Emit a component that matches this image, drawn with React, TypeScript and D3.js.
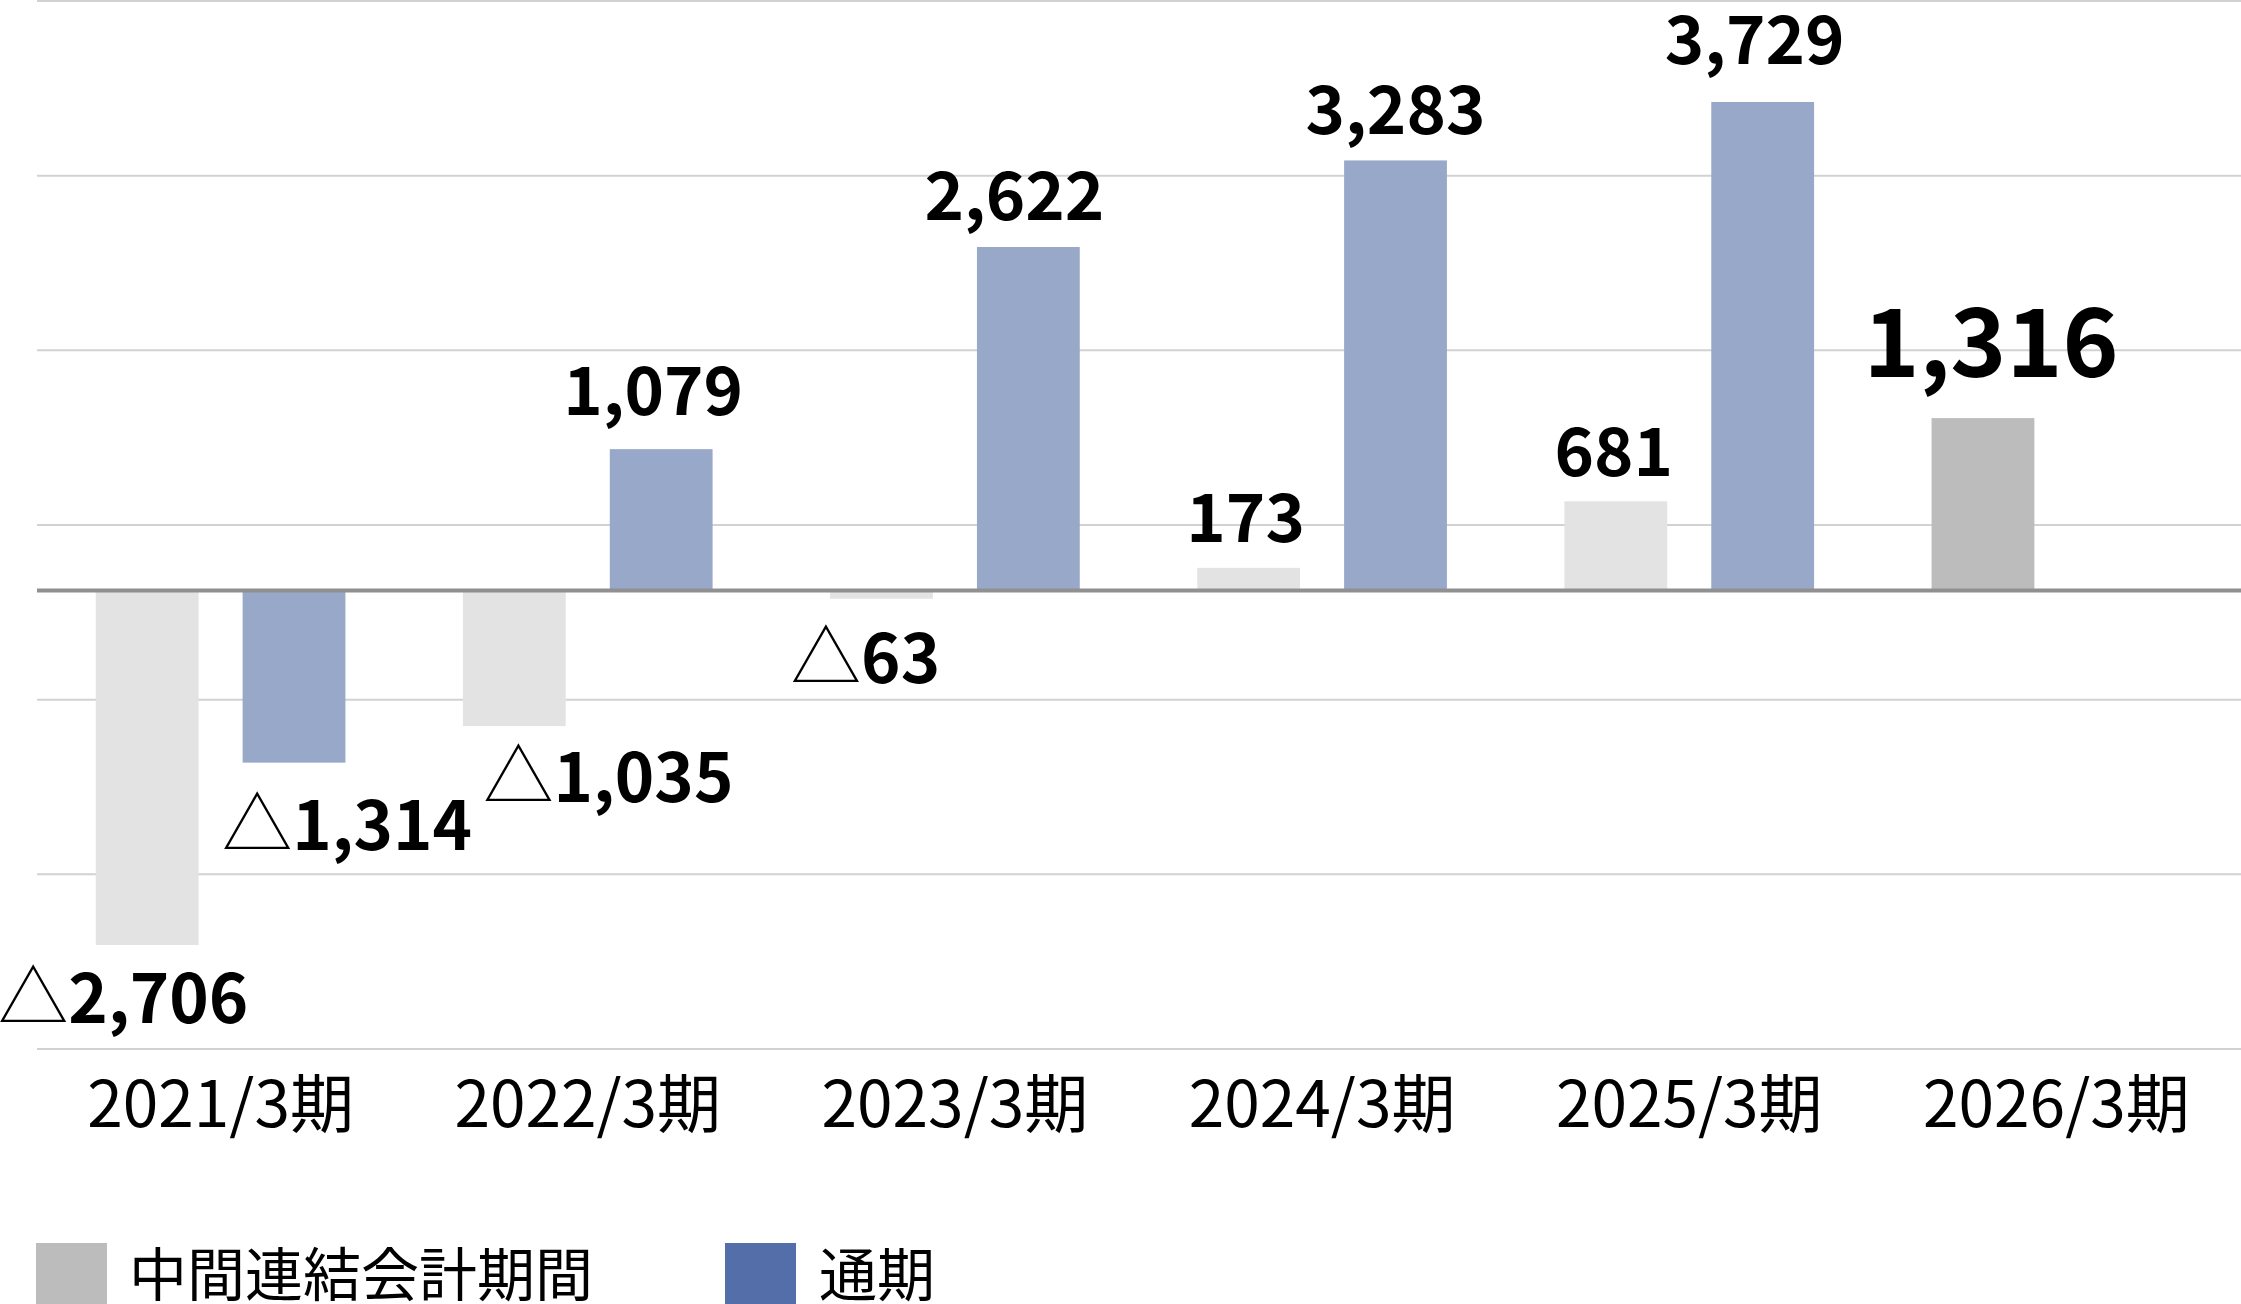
import React from 'react';
import * as d3 from 'd3';

// chart data
const categories = ['2021/3期', '2022/3期', '2023/3期', '2024/3期', '2025/3期', '2026/3期'];
const interimValues = [-2706, -1035, -63, 173, 681, 1316];
const fullYearValues: (number | null)[] = [-1314, 1079, 2622, 3283, 3729, null];
const seriesNames = ['中間連結会計期間', '通期'];
const yDomain = [-3500, 4500];
const gridCount = 6;

// hand placed label nudges (dx, dy) like in the source chart
const labelNudge: Record<string, [number, number]> = {
  'interim-0': [-24, 0],
  'full-0': [53, 9],
  'interim-1': [94, -2],
  'full-1': [-8, -9],
  'interim-2': [-16, 6],
  'full-2': [-14, -2],
  'interim-3': [-3, -1],
  'full-3': [0, -1],
  'interim-4': [-2, 0],
  'full-4': [-8, -13],
  'interim-5': [8, -16],
};

const W = 2241;
const H = 1304;
const FONT = '"Noto Sans CJK JP", "Noto Sans", sans-serif';

const colors = {
  interim: '#e3e3e3',
  interimLatest: '#bcbcbc',
  full: '#98a8c8',
  fullLegend: '#536ea8',
  grid: '#d2d2d2',
  axis: '#909090',
};

export default function App() {
  const x = d3.scaleBand<string>().domain(categories).range([37, 2240]).padding(0);
  const inner = d3
    .scaleBand<string>()
    .domain(['interim', 'full'])
    .range([0, x.step()])
    .paddingInner(0.3)
    .paddingOuter(0.4);
  const y = d3.scaleLinear().domain(yDomain).range([1049, 1]);

  const gridStep = (yDomain[1] - yDomain[0]) / gridCount;
  const gridValues = d3.range(gridCount + 1).map((i) => yDomain[0] + i * gridStep);

  const fmt = d3.format(',');
  const lastIdx = categories.length - 1;

  const bars: { key: string; cat: string; series: string; value: number; color: string; i: number }[] = [];
  categories.forEach((cat, i) => {
    bars.push({
      key: `interim-${i}`,
      cat,
      series: 'interim',
      value: interimValues[i],
      color: i === lastIdx ? colors.interimLatest : colors.interim,
      i,
    });
    const fv = fullYearValues[i];
    if (fv != null) {
      bars.push({ key: `full-${i}`, cat, series: 'full', value: fv, color: colors.full, i });
    }
  });

  return (
    <svg
      width={W}
      height={H}
      style={{ position: 'absolute', left: 0, top: 0, background: '#fff' }}
      fontFamily={FONT}
    >
      {/* gridlines */}
      {gridValues.map((v) => (
        <line key={v} x1={37} x2={W} y1={y(v)} y2={y(v)} stroke={colors.grid} strokeWidth={2} />
      ))}

      {/* bars */}
      {bars.map((b) => {
        const bx = (x(b.cat) as number) + (inner(b.series) as number);
        const y0 = y(0);
        const y1 = y(b.value);
        return (
          <rect
            key={b.key}
            x={bx}
            y={Math.min(y0, y1)}
            width={inner.bandwidth()}
            height={Math.abs(y1 - y0)}
            fill={b.color}
          />
        );
      })}

      {/* zero axis */}
      <line x1={37} x2={W} y1={y(0)} y2={y(0)} stroke={colors.axis} strokeWidth={4} />

      {/* value labels */}
      {bars.map((b) => {
        const cx = (x(b.cat) as number) + (inner(b.series) as number) + inner.bandwidth() / 2;
        const [dx, dy] = labelNudge[b.key] || [0, 0];
        const latest = b.i === lastIdx;
        const size = latest ? 95 : 67;
        const neg = b.value < 0;
        const ty = neg ? y(b.value) + 78 : y(b.value) - 25;
        return (
          <text
            key={'l' + b.key}
            x={cx + dx}
            y={ty + dy}
            textAnchor="middle"
            fontSize={size}
            fontWeight={700}
            fill="#000"
          >
            {neg && <tspan fontWeight={300} fontSize={size * 1.05}>△</tspan>}
            {fmt(Math.abs(b.value))}
          </text>
        );
      })}

      {/* category labels */}
      {categories.map((c) => (
        <text
          key={c}
          x={(x(c) as number) + x.bandwidth() / 2}
          y={1127}
          textAnchor="middle"
          fontSize={64}
          fill="#000"
        >
          {c}
        </text>
      ))}

      {/* legend */}
      <g>
        <rect x={36} y={1243} width={71} height={70} fill={colors.interimLatest} />
        <text x={129} y={1296} fontSize={58} fill="#000">
          {seriesNames[0]}
        </text>
        <rect x={725} y={1243} width={71} height={70} fill={colors.fullLegend} />
        <text x={819} y={1296} fontSize={58} fill="#000">
          {seriesNames[1]}
        </text>
      </g>
    </svg>
  );
}
